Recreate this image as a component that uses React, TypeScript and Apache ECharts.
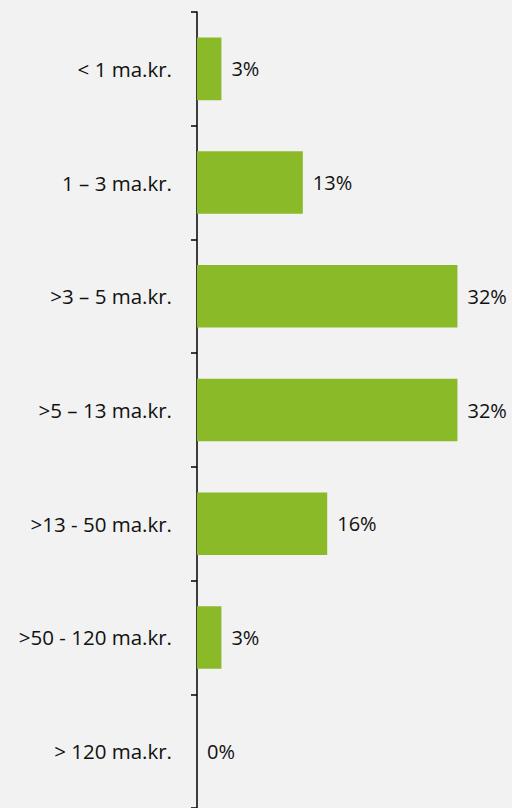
import React, { useEffect, useRef } from "react";
import * as echarts from "echarts";

const categories = [
  "< 1 ma.kr.",
  "1 – 3 ma.kr.",
  ">3 – 5 ma.kr.",
  ">5 – 13 ma.kr.",
  ">13 - 50 ma.kr.",
  ">50 - 120 ma.kr.",
  "> 120 ma.kr.",
];
const values = [3, 13, 32, 32, 16, 3, 0];

export default function App() {
  const ref = useRef<HTMLDivElement>(null);
  useEffect(() => {
    if (!ref.current) return;
    const chart = echarts.init(ref.current, undefined, { renderer: "svg" });
    const font = "'Open Sans', sans-serif";
    chart.setOption({
      animation: false,
      backgroundColor: "#f2f2f2",
      grid: { left: 197, right: 22, top: 12, bottom: -2, containLabel: false },
      xAxis: {
        type: "value",
        min: 0,
        max: 36,
        show: false,
      },
      yAxis: {
        type: "category",
        data: categories,
        inverse: true,
        axisLine: { show: true, lineStyle: { color: "#000", width: 1.5 } },
        axisTick: { show: true, length: 6, lineStyle: { color: "#000", width: 1.5 } },
        axisLabel: { color: "#111", fontSize: 20.5, fontWeight: "normal", fontFamily: font, margin: 25 },
        splitLine: { show: false },
      },
      series: [
        {
          type: "bar",
          data: values,
          barCategoryGap: "45%",
          itemStyle: { color: "#8aba28" },
          label: {
            show: true,
            position: "right",
            distance: 10,
            formatter: "{c}%",
            color: "#111",
            fontSize: 20,
            fontWeight: "normal",
            fontFamily: font,
          },
        },
      ],
    });
    return () => chart.dispose();
  }, []);
  return (
    <div
      ref={ref}
      style={{ position: "fixed", left: 0, top: 0, width: 512, height: 808 }}
    />
  );
}
